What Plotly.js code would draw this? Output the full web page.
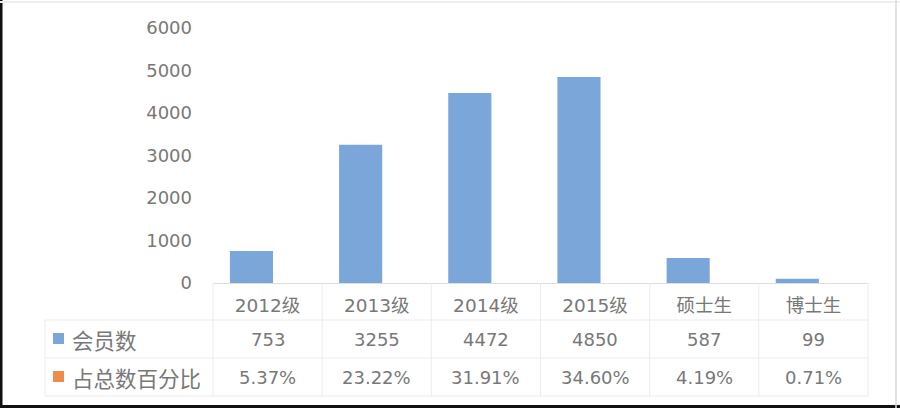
<!DOCTYPE html>
<html>
<head>
<meta charset="utf-8">
<script src="https://cdn.plot.ly/plotly-3.0.1.min.js"></script>
<style>
html,body{margin:0;padding:0;background:#fff;}
#chart{width:900px;height:408px;}
</style>
</head>
<body>
<div id="chart"></div>
<script>
const categories = ['2012级', '2013级', '2014级', '2015级', '硕士生', '博士生'];
const members = [753, 3255, 4472, 4850, 587, 99];
const percentLabels = ['5.37%', '23.22%', '31.91%', '34.60%', '4.19%', '0.71%'];
const percentValues = [5.37, 23.22, 31.91, 34.60, 4.19, 0.71];
const seriesNames = ['会员数', '占总数百分比'];
const yTicks = [0, 1000, 2000, 3000, 4000, 5000, 6000];

// layout geometry (pixels)
const W = 900, H = 408;
const L = 213, R = 868, T = 28, B = 283;
const px = x => (x - L) / (R - L);
const py = y => (B - y) / (B - T);

const blue = '#7aa6da';
const orange = '#ee8c4e';
const textCol = '#787878';
const lineCol = '#ececec';
const font = '"DejaVu Sans", "Noto Sans CJK SC", sans-serif';
const cjk = '"Noto Sans CJK SC", sans-serif';

const traces = [{
  type: 'bar',
  x: categories,
  y: members,
  name: seriesNames[0],
  marker: {color: blue},
  width: 0.395,
  offset: -0.345,
  hoverinfo: 'x+y'
}];

const shapes = [];
const annotations = [];
const hline = (x0, x1, y) => shapes.push({type:'line', xref:'paper', yref:'paper', x0:px(x0), x1:px(x1), y0:py(y), y1:py(y), line:{color:lineCol, width:1}});
const vline = (x, y0, y1) => shapes.push({type:'line', xref:'paper', yref:'paper', x0:px(x), x1:px(x), y0:py(y0), y1:py(y1), line:{color:lineCol, width:1}});

// table grid
hline(45, R, 320);
hline(45, R, 358);
hline(45, R, 396);
vline(45, 320, 396);
for (let k = 0; k <= categories.length; k++) {
  vline(L + k * (R - L) / categories.length, B, 396);
}

// table body text
categories.forEach((c, i) => {
  annotations.push({xref:'x', yref:'paper', x:c, y:py(339), text:String(members[i]), showarrow:false,
    font:{family:font, size:18, color:textCol}, xanchor:'center', yanchor:'middle'});
  annotations.push({xref:'x', yref:'paper', x:c, y:py(377), text:percentLabels[i], showarrow:false,
    font:{family:font, size:18, color:textCol}, xanchor:'center', yanchor:'middle'});
});

// row headers with legend keys
const keyCols = [blue, orange];
const rowY = [339, 377];
seriesNames.forEach((n, i) => {
  shapes.push({type:'rect', xref:'paper', yref:'paper', x0:px(53), x1:px(64), y0:py(rowY[i]-6), y1:py(rowY[i]+5),
    fillcolor:keyCols[i], line:{width:0}});
  annotations.push({xref:'paper', yref:'paper', x:px(70), y:py(rowY[i]), text:n, showarrow:false,
    font:{family:cjk, size:21.5, color:textCol}, xanchor:'left', yanchor:'middle'});
});

// outer frame
shapes.push({type:'line', xref:'paper', yref:'paper', x0:px(1), x1:px(1), y0:py(0), y1:py(H), line:{color:'#111', width:3}});
shapes.push({type:'line', xref:'paper', yref:'paper', x0:px(0), x1:px(W), y0:py(406.5), y1:py(406.5), line:{color:'#111', width:3}});
shapes.push({type:'line', xref:'paper', yref:'paper', x0:px(0), x1:px(W), y0:py(2), y1:py(2), line:{color:'#eeeeee', width:2}});
shapes.push({type:'line', xref:'paper', yref:'paper', x0:px(896), x1:px(896), y0:py(0), y1:py(H), line:{color:'#d9d9d9', width:1.5}});

const layout = {
  width: W, height: H,
  margin: {l: L, r: W - R, t: T, b: H - B, pad: 0},
  paper_bgcolor: '#ffffff',
  plot_bgcolor: '#ffffff',
  showlegend: false,
  xaxis: {
    type: 'category',
    showgrid: false,
    zeroline: false,
    showline: true,
    linecolor: '#dedede',
    linewidth: 1,
    ticks: '',
    ticklabelstandoff: 6,
    tickfont: {family: font, size: 18.5, color: textCol},
    fixedrange: true
  },
  yaxis: {
    range: [0, 6000],
    tickvals: yTicks,
    ticktext: yTicks.map(String),
    showgrid: false,
    zeroline: false,
    showline: false,
    ticks: '',
    ticklabelstandoff: 20,
    tickfont: {family: font, size: 18, color: textCol},
    fixedrange: true
  },
  shapes: shapes,
  annotations: annotations
};

Plotly.newPlot('chart', traces, layout, {displayModeBar: false, staticPlot: true});
</script>
</body>
</html>
